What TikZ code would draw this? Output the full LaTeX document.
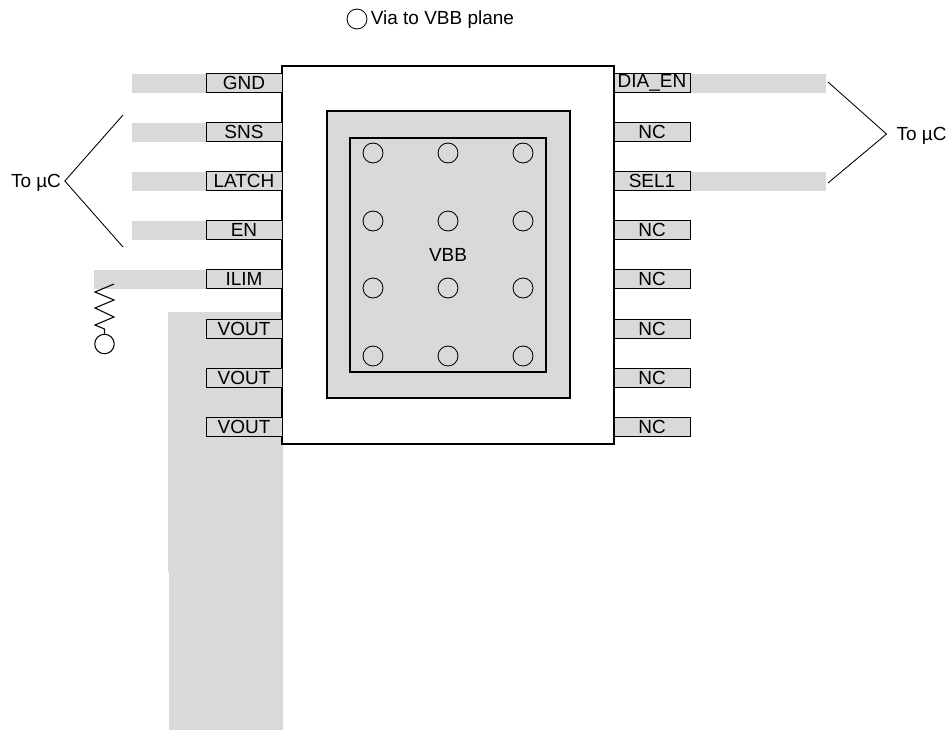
\documentclass[tikz,border=0pt]{standalone}
\usepackage{fontspec}
\setmainfont{Liberation Sans}
\definecolor{tracegray}{HTML}{D9D9D9}
\begin{document}
\begin{tikzpicture}[x=0.02cm, y=-0.02cm,
    every node/.style={font=\fontsize{10.8}{13}\selectfont},
    pinbox/.style={draw,rectangle,fill=tracegray,line width=0.5pt,minimum width=1.52cm,minimum height=0.38cm,inner sep=0pt},
    tracebar/.style={rectangle,fill=tracegray,minimum width=1.5cm,minimum height=0.38cm,inner sep=0pt},
    viahole/.style={draw,circle,line width=0.5pt,minimum size=0.4cm,inner sep=0pt},
    uclabel/.style={text height=7.5pt,text depth=0pt},
    wirebar/.style={line width=0.5pt}]
    \useasboundingbox (0,0) rectangle (948,730);

    % Copper areas on the left
    \fill[tracegray] (168,312) -- (283,312) -- (283,730) -- (169,730) -- (169,572) -- (168,572) -- cycle;
    \node[tracebar] (tgnd) at (169,83.5) {};
    \node[tracebar] (tsns) at (169,132.5) {};
    \node[tracebar] (tlatch) at (169,181.5) {};
    \node[tracebar] (ten) at (169,230.5) {};
    \node[tracebar,minimum width=2.26cm] (tilim) at (150,279.5) {};

    % Copper areas on the right
    \node[tracebar,minimum width=2.72cm] (tdia) at (758,83.5) {};
    \node[tracebar,minimum width=2.72cm] (tsel) at (758,181.5) {};

    % Package
    \node[draw,rectangle,fill=white,line width=1.6pt,minimum width=6.64cm,minimum height=7.56cm,inner sep=0pt] (chip) at (448,255) {};
    \node[draw,rectangle,fill=tracegray,line width=1.3pt,minimum width=4.86cm,minimum height=5.74cm,inner sep=0pt] (pad) at (448.5,254.5) {};
    \node[draw,rectangle,fill=tracegray,line width=1.3pt,minimum width=3.92cm,minimum height=4.68cm,inner sep=0pt] (padin) at (448,255) {};
    \node (vbb) at (448,255) {VBB};

    % Vias in the pad
    \node[viahole] (via11) at (373,153) {};
    \node[viahole] (via12) at (448,153) {};
    \node[viahole] (via13) at (523,153) {};
    \node[viahole] (via21) at (373,221) {};
    \node[viahole] (via22) at (448,221) {};
    \node[viahole] (via23) at (523,221) {};
    \node[viahole] (via31) at (373,288) {};
    \node[viahole] (via32) at (448,288) {};
    \node[viahole] (via33) at (523,288) {};
    \node[viahole] (via41) at (373,356) {};
    \node[viahole] (via42) at (448,356) {};
    \node[viahole] (via43) at (523,356) {};

    % Legend
    \node[viahole] (legvia) at (357,19) {};
    \node[anchor=west,inner sep=0pt] (legend) at (370.5,20) {Via to VBB plane};

    % Left pins
    \node[pinbox] (gnd) at (244,83) {GND};
    \node[pinbox] (sns) at (244,132) {SNS};
    \node[pinbox] (latch) at (244,181) {LATCH};
    \node[pinbox] (en) at (244,230) {EN};
    \node[pinbox] (ilim) at (244,279) {ILIM};
    \node[pinbox] (vout1) at (244,329) {VOUT};
    \node[pinbox] (vout2) at (244,378) {VOUT};
    \node[pinbox] (vout3) at (244,427) {VOUT};

    % Right pins
    \node[pinbox] (dia) at (652,83) {DIA\_EN};
    \node[pinbox] (nc1) at (652,132) {NC};
    \node[pinbox] (sel) at (652,181) {SEL1};
    \node[pinbox] (nc2) at (652,230) {NC};
    \node[pinbox] (nc3) at (652,279) {NC};
    \node[pinbox] (nc4) at (652,329) {NC};
    \node[pinbox] (nc5) at (652,378) {NC};
    \node[pinbox] (nc6) at (652,427) {NC};

    % To uC labels
    \node[uclabel,inner sep=2pt] (ucleft) at (36,181) {To µC};
    \node[uclabel,inner sep=5.5pt] (ucright) at (921.5,134) {To µC};
    \coordinate (lefttop) at (123,115);
    \coordinate (leftbot) at (123,247);
    \coordinate (righttop) at (828,82);
    \coordinate (rightbot) at (828,183);
    \draw[wirebar] (lefttop) -- (ucleft.east) -- (leftbot);
    \draw[wirebar] (righttop) -- (ucright.west) -- (rightbot);

    % Resistor from ILIM trace
    \node[draw,circle,line width=0.6pt,minimum size=0.39cm,inner sep=0pt] (rvia) at (104.5,344) {};
    \coordinate (rtop) at (114,284);
    \draw[line width=0.6pt] (rtop) -- (95,292) -- (114,300) -- (95,308) -- (114,317) -- (95,325) -- (104.5,329) -- (rvia.north);
\end{tikzpicture}
\end{document}
